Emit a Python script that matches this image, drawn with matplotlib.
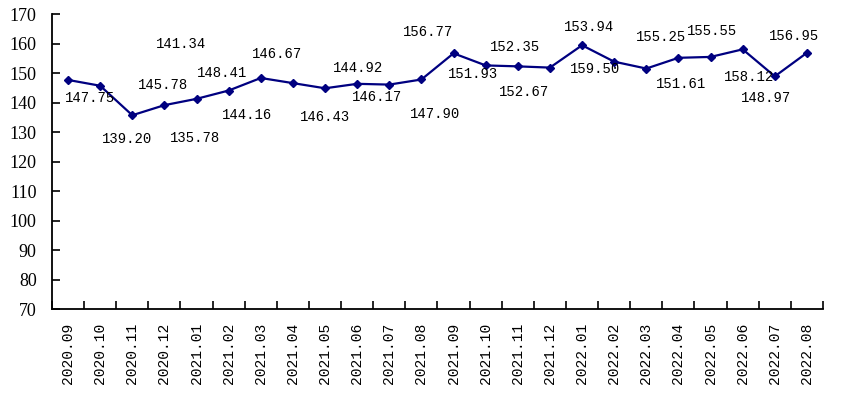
import matplotlib.pyplot as plt
import numpy as np

months = ['2020.09', '2020.10', '2020.11', '2020.12', '2021.01', '2021.02',
          '2021.03', '2021.04', '2021.05', '2021.06', '2021.07', '2021.08',
          '2021.09', '2021.10', '2021.11', '2021.12', '2022.01', '2022.02',
          '2022.03', '2022.04', '2022.05', '2022.06', '2022.07', '2022.08']
values = [147.75, 145.78, 135.78, 139.20, 141.34, 144.16,
          148.41, 146.67, 144.92, 146.43, 146.17, 147.90,
          156.77, 152.67, 152.35, 151.93, 159.50, 153.94,
          151.61, 155.25, 155.55, 158.12, 148.97, 156.95]

# label offsets from each point, in pixels (dx right, dy up)
label_off = [(22, -18), (63, 1), (63, -23), (-37, -34), (-15, 55), (18, -24),
             (-39, 5), (-16, 29), (33, 20), (-32, -33), (-12, -12), (14, -35),
             (-25, 21), (38, -27), (-3, 19), (-77, -6), (13, -24), (-25, 35),
             (35, -15), (-17, 21), (2, 26), (6, -28), (-9, -22), (-13, 17)]

fig = plt.figure(figsize=(8.41, 3.95), dpi=100)
ax = fig.add_axes([0.0618, 0.217, 0.9168, 0.7468])

x = np.arange(len(months))
ax.plot(x, values, color='#000080', lw=1.6, marker='D', ms=4.5)

for i, v in enumerate(values):
    ax.annotate(f'{v:.2f}', (x[i], v), xytext=label_off[i], textcoords='offset pixels',
                ha='center', va='center', fontsize=10, family='Liberation Mono')

ax.set_xlim(-0.5, len(months) - 0.5)
ax.set_ylim(70, 170)
ax.set_yticks(np.arange(70, 171, 10))
ax.set_xticks(x)
ax.set_xticklabels(months, rotation=90, family='Liberation Mono', fontsize=10.5)
ax.set_xticks(np.arange(-0.5, len(months)), minor=True)
ax.tick_params(axis='x', which='major', length=0, pad=10)
ax.tick_params(axis='x', which='minor', direction='in', length=5.5, width=1.2)
ax.tick_params(axis='y', direction='in', length=5.5, width=1.2, pad=11)
for lab in ax.get_yticklabels():
    lab.set_family('Liberation Serif')
    lab.set_fontsize(13)

ax.spines['top'].set_visible(False)
ax.spines['right'].set_visible(False)
ax.spines['left'].set_linewidth(1.3)
ax.spines['bottom'].set_linewidth(1.3)

fig.savefig('out.png', dpi=100)
